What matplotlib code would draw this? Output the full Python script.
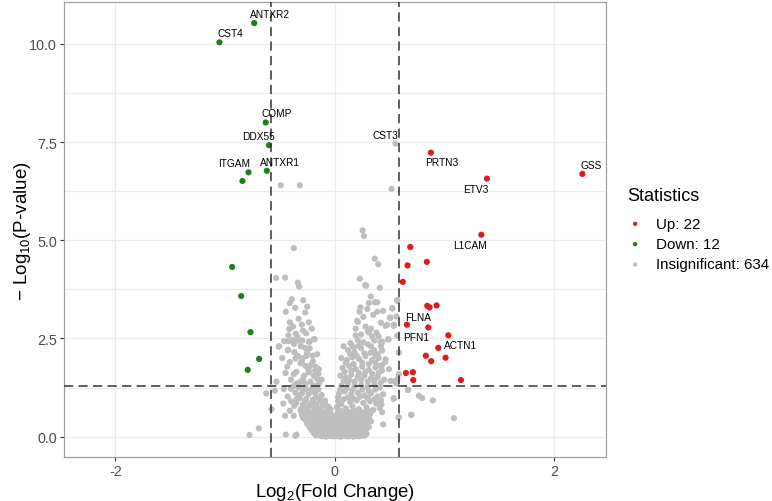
import numpy as np
import matplotlib
matplotlib.use('Agg')
import matplotlib.pyplot as plt

plt.rcParams['font.family'] = ['Liberation Sans', 'DejaVu Sans']
plt.rcParams['mathtext.fontset'] = 'custom'
plt.rcParams['mathtext.rm'] = 'Liberation Sans'
plt.rcParams['mathtext.it'] = 'Liberation Sans:italic'

# thresholds
fc_cut = 1.5
p_cut = 0.05

# significant genes (log2 FC, -log10 p), names only where labelled
up_x = [0.876, 2.257, 1.387, 1.336, 0.688, 0.839, 0.663, 0.620, 0.843, 0.864, 0.928,
        0.657, 0.852, 1.035, 0.943, 0.830, 1.010, 0.879, 0.648, 0.712, 0.715, 1.150]
up_y = [7.23, 6.69, 6.57, 5.14, 4.83, 4.45, 4.36, 3.94, 3.33, 3.29, 3.34,
        2.85, 2.78, 2.58, 2.26, 2.06, 2.01, 1.92, 1.62, 1.64, 1.44, 1.44]
up_names = ["PRTN3", "GSS", "ETV3", "L1CAM", "", "", "", "", "", "FLNA", "",
            "", "PFN1", "ACTN1", "", "", "", "", "", "", "", ""]

down_x = [-0.735, -1.052, -0.630, -0.600, -0.620, -0.787, -0.842, -0.936, -0.854, -0.769, -0.690, -0.794]
down_y = [10.53, 10.04, 8.00, 7.42, 6.77, 6.73, 6.51, 4.32, 3.58, 2.66, 1.98, 1.70]
down_names = ["ANTXR2", "CST4", "COMP", "DDX55", "ANTXR1", "ITGAM", "", "", "", "", "", ""]

# insignificant genes, outer points
ns_x = [0.554, -0.493, -0.319, 0.517, 0.253, 0.265, 0.365, 0.396, -0.374, 0.228, 0.286, 0.410, 0.277,
        0.328, 0.365, 0.569, 0.296, 0.524, 0.387, 0.502, 0.563, 0.538, 0.478, 0.301, 0.341, 0.569,
        0.432, 0.490,
        -0.535, -0.453, -0.338, -0.325, -0.392, -0.410, -0.288, -0.252, -0.447, -0.270, -0.410, -0.237,
        -0.416, -0.356, -0.261, -0.423,
        -0.462, -0.425, -0.383, -0.338, -0.297, -0.231, -0.185, -0.507, -0.374, -0.270,
        0.225, 0.210, 0.190, 0.143, 0.161, 0.234, 0.204, 0.310, 0.417, 0.484, 0.173, 0.219,
        -0.511, -0.425, -0.374, -0.325, -0.237, -0.192, -0.338, -0.359, -0.297, -0.252, -0.203, -0.161,
        -0.434, -0.313, -0.267, -0.222, -0.176, -0.146, -0.374, -0.237, -0.192, -0.161, -0.313, -0.267,
        -0.222, -0.343, -0.192, -0.146,
        -0.532, -0.547, -0.626, -0.577, -0.470, -0.398, -0.465, -0.453, -0.374, -0.693, -0.778, -0.447,
        -0.360, -0.350,
        -0.400, -0.330, -0.270, -0.210, -0.150, -0.360, -0.300, -0.240, -0.180, -0.120, -0.320, -0.260,
        -0.200, -0.140, -0.090, -0.350, -0.290, -0.230, -0.170, -0.110, -0.060, -0.310, -0.250, -0.190,
        -0.130, -0.080,
        0.080, 0.120, 0.180, 0.240, 0.300, 0.360, 0.420,
        0.060, 0.110, 0.160, 0.220, 0.280, 0.340, 0.400, 0.460,
        0.070, 0.130, 0.190, 0.250, 0.310, 0.370, 0.430,
        0.050, 0.100, 0.150, 0.210, 0.270, 0.330, 0.390, 0.450,
        0.060, 0.120, 0.180, 0.240, 0.300, 0.360, 0.410,
        0.040, 0.090, 0.150, 0.210, 0.270, 0.330, 0.390, 0.440,
        0.030, 0.080, 0.140, 0.200, 0.260, 0.320, 0.380,
        0.020, 0.100, 0.160, 0.220, 0.290, 0.350, 0.410,
        0.387, 0.569, 0.524, 0.508, 0.463, 0.538, 0.326, 0.371, 0.432, 0.584, 0.463, 0.417,
        0.493, 0.584, 0.508, 0.570, 0.538, 0.584, 0.766, 0.797, 0.894, 1.086, 0.697, 0.666,
        0.536, 0.581, 0.697, 0.670, 0.545, 0.560, 0.432, 0.441, 0.426, 0.270]
ns_y = [7.46, 6.40, 6.40, 6.31, 5.25, 5.11, 4.53, 4.39, 4.80, 4.02, 3.84, 3.79, 3.86,
        3.57, 3.42, 3.47, 3.25, 3.27, 3.18, 3.03, 3.06, 2.85, 2.85, 2.69, 2.55, 2.57,
        2.41, 2.47,
        4.04, 4.05, 3.92, 3.82, 3.50, 3.40, 3.47, 3.31, 3.18, 3.16, 2.91, 2.91,
        2.74, 2.62, 2.63, 2.58,
        2.43, 2.43, 2.46, 2.48, 2.45, 2.42, 2.48, 2.30, 2.36, 2.26,
        3.18, 2.92, 2.58, 2.38, 2.31, 3.29, 2.95, 2.65, 2.40, 2.48, 2.27, 2.31,
        2.29, 2.21, 2.40, 2.44, 2.41, 2.48, 2.06, 1.99, 1.99, 2.13, 2.06, 2.10,
        1.78, 1.87, 1.80, 1.82, 1.78, 1.72, 1.59, 1.64, 1.55, 1.47, 1.40, 1.34,
        1.40, 1.30, 1.30, 1.34,
        1.40, 1.17, 1.10, 0.70, 0.84, 0.90, 1.21, 0.53, 0.53, 0.21, 0.04, 0.05,
        0.02, 0.05,
        1.22, 1.25, 1.24, 1.22, 1.20, 1.12, 1.10, 1.08, 1.12, 1.06, 0.98, 0.96,
        0.94, 0.95, 0.92, 0.85, 0.82, 0.80, 0.83, 0.78, 0.76, 0.70, 0.68, 0.72,
        0.66, 0.64,
        2.30, 2.20, 2.15, 2.25, 2.35, 2.20, 2.30,
        2.00, 1.95, 2.02, 1.98, 2.05, 1.95, 2.00, 1.90,
        1.75, 1.80, 1.72, 1.78, 1.70, 1.76, 1.68,
        1.55, 1.50, 1.58, 1.52, 1.55, 1.48, 1.52, 1.45,
        1.30, 1.35, 1.28, 1.32, 1.27, 1.33, 1.25,
        1.10, 1.15, 1.08, 1.12, 1.05, 1.10, 1.02, 1.08,
        0.90, 0.95, 0.88, 0.92, 0.86, 0.90, 0.84,
        0.75, 0.72, 0.78, 0.70, 0.74, 0.68, 0.72,
        3.42, 3.46, 3.26, 3.03, 2.82, 2.82, 2.14, 2.06, 2.19, 2.14, 1.97, 1.80,
        1.72, 1.59, 1.42, 1.46, 0.96, 0.49, 1.04, 0.98, 0.92, 0.47, 0.55, 1.19,
        0.98, 0.49, 0.56, 1.19, 1.41, 1.36, 0.62, 0.31, 0.82, 0.03]

# insignificant genes in the overlapping core near the origin (estimated)
core_x = [-0.280, -0.215, -0.165, -0.095, -0.045, 0.025, 0.075, 0.145, 0.195, 0.265,
          -0.255, -0.185, -0.135, -0.065, -0.010, 0.055, 0.105, 0.175, 0.225, 0.290,
          -0.270, -0.205, -0.150, -0.085, -0.030, 0.035, 0.090, 0.150, 0.215, 0.270,
          -0.240, -0.175, -0.120, -0.055, 0.005, 0.060, 0.125, 0.180, 0.240,
          -0.220, -0.160, -0.100, -0.040, 0.020, 0.085, 0.140, 0.205, 0.255,
          -0.200, -0.145, -0.080, -0.020, 0.045, 0.100, 0.160, 0.220, 0.285,
          -0.180, -0.120, -0.065, 0.000, 0.060, 0.120, 0.175, 0.240,
          -0.150, -0.090, -0.030, 0.030, 0.090, 0.155, 0.210, 0.270,
          -0.120, -0.050, 0.010, 0.070, 0.130, 0.190,
          -0.31, -0.25, -0.19, -0.13, -0.07, 0.05, 0.11, 0.17, 0.23, 0.29, 0.33,
          -0.30, -0.22, -0.16, -0.10, -0.04, 0.02, 0.08, 0.14, 0.20, 0.26, 0.32,
          -0.29, -0.23, -0.18, -0.11, -0.06, 0.01, 0.07, 0.12, 0.19, 0.24, 0.31,
          -0.26, -0.21, -0.14, -0.08, -0.02, 0.04, 0.10, 0.16, 0.22, 0.28, 0.33,
          -0.25, -0.19, -0.13, -0.07, -0.01, 0.05, 0.11, 0.16, 0.23, 0.29,
          -0.23, -0.17, -0.11, -0.05, 0.01, 0.07, 0.13, 0.19, 0.24, 0.31,
          -0.21, -0.16, -0.10, -0.04, 0.02, 0.08, 0.14, 0.20, 0.26,
          -0.19, -0.13, -0.07, -0.01, 0.05, 0.11, 0.17, 0.23, 0.29,
          -0.17, -0.11, 0.04, 0.10, 0.16, 0.24,
          -0.08, -0.02, 0.05, 0.11, 0.17, 0.22,
          -0.38, -0.24, -0.33, -0.17, -0.27, -0.21, -0.12, -0.37, -0.15, -0.04, -0.28, -0.09,
          -0.43, -0.41, -0.20, -0.29, -0.35,
          -0.41, -0.35, -0.28, -0.24, -0.18, -0.30, -0.26, -0.20, -0.15, -0.12, -0.40, -0.35,
          -0.29, -0.45, -0.37, -0.43, -0.31, -0.23, -0.48, -0.34, -0.29, -0.38, -0.33, -0.30,
          -0.36, -0.21,
          0.03, 0.06, 0.12, 0.17, 0.23, 0.30, 0.36, 0.42, 0.05, 0.11, 0.16, 0.25, 0.31, 0.37,
          0.08, 0.13, 0.18, 0.24, 0.30, 0.36, 0.42, 0.09, 0.15, 0.22, 0.28, 0.34, 0.40,
          0.10, 0.17, 0.25, 0.31, 0.37, 0.43, 0.14, 0.20, 0.27, 0.33, 0.39, 0.21, 0.26, 0.36,
          0.24, 0.28, 0.33, 0.38, 0.42, 0.26, 0.35, 0.31, 0.44, 0.40, 0.19]
core_y = [0.61, 0.59, 0.62, 0.58, 0.60, 0.61, 0.58, 0.62, 0.59, 0.60,
          0.52, 0.54, 0.50, 0.53, 0.51, 0.52, 0.55, 0.51, 0.53, 0.50,
          0.44, 0.42, 0.45, 0.43, 0.46, 0.44, 0.42, 0.45, 0.43, 0.44,
          0.36, 0.35, 0.37, 0.34, 0.36, 0.38, 0.35, 0.36, 0.34,
          0.28, 0.27, 0.29, 0.26, 0.28, 0.27, 0.30, 0.28, 0.26,
          0.20, 0.19, 0.21, 0.18, 0.20, 0.22, 0.19, 0.21, 0.20,
          0.12, 0.13, 0.11, 0.12, 0.14, 0.12, 0.11, 0.13,
          0.05, 0.06, 0.04, 0.05, 0.06, 0.04, 0.05, 0.06,
          0.01, 0.02, 0.01, 0.02, 0.01, 0.02,
          0.65, 0.66, 0.64, 0.67, 0.65, 0.66, 0.64, 0.67, 0.65, 0.66, 0.64,
          0.56, 0.57, 0.55, 0.56, 0.58, 0.56, 0.55, 0.57, 0.56, 0.55, 0.57,
          0.48, 0.47, 0.49, 0.48, 0.47, 0.49, 0.48, 0.47, 0.49, 0.48, 0.47,
          0.40, 0.39, 0.41, 0.40, 0.39, 0.41, 0.40, 0.39, 0.41, 0.40, 0.39,
          0.32, 0.31, 0.33, 0.32, 0.31, 0.33, 0.32, 0.31, 0.33, 0.32,
          0.24, 0.23, 0.25, 0.24, 0.23, 0.25, 0.24, 0.23, 0.25, 0.24,
          0.16, 0.15, 0.17, 0.16, 0.15, 0.17, 0.16, 0.15, 0.17,
          0.08, 0.09, 0.07, 0.08, 0.09, 0.07, 0.08, 0.09, 0.07,
          0.03, 0.02, 0.03, 0.02, 0.03, 0.02,
          0.00, 0.01, 0.00, 0.01, 0.00, 0.01,
          1.28, 1.16, 1.04, 1.01, 0.90, 0.87, 0.88, 0.78, 0.72, 0.70, 0.76, 0.84,
          1.02, 0.66, 1.15, 1.18, 0.95,
          1.90, 1.65, 1.55, 1.72, 1.68, 1.92, 2.05, 1.92, 1.60, 1.45, 1.45, 1.35,
          1.45, 1.62, 2.15, 2.20, 2.30, 2.25, 2.00, 2.55, 2.70, 2.80, 3.00, 2.85,
          3.28, 2.75,
          1.00, 0.83, 1.00, 0.97, 1.02, 0.98, 0.95, 0.93, 1.20, 1.23, 1.18, 1.20, 1.16, 1.20,
          1.42, 1.44, 1.40, 1.45, 1.40, 1.43, 1.38, 1.65, 1.68, 1.62, 1.65, 1.60, 1.62,
          1.88, 1.85, 1.88, 1.85, 1.88, 1.82, 2.10, 2.05, 2.12, 2.30, 2.10, 2.45, 2.40, 2.45,
          2.60, 2.80, 2.75, 2.65, 2.90, 3.05, 3.10, 3.40, 3.20, 2.55, 2.75]

ns_names = {"CST3": 0}

# label offsets in pixels (dx, dy)
label_off = {"ANTXR2": (15.6, 9), "CST4": (11, 9), "COMP": (11.4, 9), "DDX55": (-10.7, 9),
             "CST3": (-10, 8.7), "ITGAM": (-14, 9), "ANTXR1": (12.7, 8.6), "PRTN3": (11, -9.7),
             "GSS": (9.3, 8.6), "ETV3": (-11, -10), "L1CAM": (-11.4, -10.4), "FLNA": (-11, -9.7),
             "PFN1": (-11.7, -9.4), "ACTN1": (12.6, -9.7)}

col_up = '#DF1B1D'
col_down = '#1F7F1F'
col_ns = '#BEBEBE'

fig = plt.figure(figsize=(7.72, 5.02), dpi=100)
ax = fig.add_axes([0.0828, 0.0871, 0.7018, 0.9064])

all_ns_x = ns_x + core_x
all_ns_y = ns_y + core_y
ax.scatter(all_ns_x, all_ns_y, s=20, c=col_ns, edgecolors='none', label='Insignificant: 634', zorder=2)
ax.scatter(up_x, up_y, s=20, c=col_up, edgecolors='none', label='Up: 22', zorder=3)
ax.scatter(down_x, down_y, s=20, c=col_down, edgecolors='none', label='Down: 12', zorder=3)

for xs, ys, names in [(up_x, up_y, up_names), (down_x, down_y, down_names)]:
    for x, y, n in zip(xs, ys, names):
        if n:
            ax.annotate(n, (x, y), xytext=label_off[n], textcoords='offset pixels',
                        ha='center', va='center', fontsize=7.3, color='black', zorder=5)
for n, i in ns_names.items():
    ax.annotate(n, (ns_x[i], ns_y[i]), xytext=label_off[n], textcoords='offset pixels',
                ha='center', va='center', fontsize=7.3, color='black', zorder=5)

lfc = np.log2(fc_cut)
ax.axvline(-lfc, color='#333333', lw=1.1, ls=(0, (6, 3.5)), zorder=4)
ax.axvline(lfc, color='#333333', lw=1.1, ls=(0, (6, 3.5)), zorder=4)
ax.axhline(-np.log10(p_cut), color='#333333', lw=1.1, ls=(0, (6, 3.5)), zorder=4)

ax.set_xlim(-2.47, 2.47)
ax.set_ylim(-0.526, 11.06)
ax.set_xticks([-2, 0, 2])
ax.set_xticklabels(['-2', '0', '2'])
ax.set_yticks([0, 2.5, 5, 7.5, 10])
ax.set_yticklabels(['0.0', '2.5', '5.0', '7.5', '10.0'])
ax.set_yticks([1.25, 3.75, 6.25, 8.75], minor=True)
ax.tick_params(axis='both', which='major', labelsize=10.4, labelcolor='#4D4D4D',
               color='#333333', length=3, width=0.8, pad=2)
ax.tick_params(axis='y', which='minor', length=0)
ax.grid(True, which='major', color='#EBEBEB', lw=0.9, zorder=0)
ax.grid(True, which='minor', axis='y', color='#EBEBEB', lw=0.9, zorder=0)
ax.set_axisbelow(True)
for s in ax.spines.values():
    s.set_color('#A0A0A0')
    s.set_linewidth(0.9)

ax.set_xlabel(r'Log$_2$(Fold Change)', fontsize=13.5, labelpad=2)
ax.set_ylabel(r'$-$ Log$_{10}$(P-value)', fontsize=13.5, labelpad=-3)

h, l = ax.get_legend_handles_labels()
order = [1, 2, 0]
leg = fig.legend([h[i] for i in order], [l[i] for i in order], title='Statistics',
                 loc='upper left', bbox_to_anchor=(620 / 772, 1 - 180 / 502), frameon=False,
                 fontsize=10.9, title_fontsize=13, handlelength=1.0, handletextpad=0.85,
                 labelspacing=0.42, borderpad=0, markerscale=0.7, alignment='left')
leg._legend_box.sep = 9.5

fig.savefig('out.png', dpi=100)
